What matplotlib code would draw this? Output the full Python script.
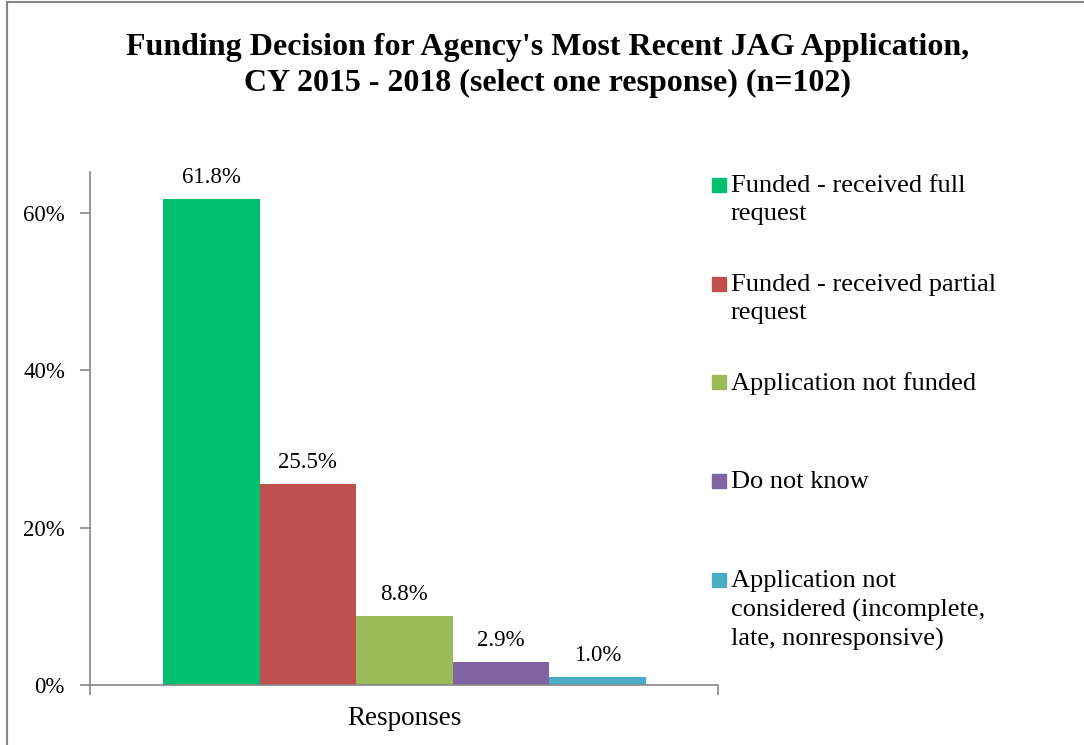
import matplotlib.pyplot as plt
from matplotlib.patches import Rectangle

# Survey responses (percent)
categories = ["Funded - received full\nrequest",
              "Funded - received partial\nrequest",
              "Application not funded",
              "Do not know",
              "Application not\nconsidered (incomplete,\nlate, nonresponsive)"]
values = [61.8, 25.5, 8.8, 2.9, 1.0]
colors = ["#00BF6F", "#C0504D", "#9BBB59", "#8064A2", "#4BACC6"]
yticks = [0, 20, 40, 60]
ytick_labels = ["0%", "20%", "40%", "60%"]

plt.rcParams['font.family'] = ['Liberation Serif', 'DejaVu Serif']
axis_grey = "#868686"

fig = plt.figure(figsize=(10.84, 7.45), dpi=100)
ax = fig.add_axes([0.083, 0.0805, 0.5794, 0.6885])

x = list(range(len(values)))
bars = ax.bar(x, values, width=1.0, color=colors, label=categories)
ax.bar_label(bars, labels=[f"{v:.1f}%" for v in values], padding=8, fontsize=16.5)

ax.set_xlim(-1.255, 5.245)
ax.set_ylim(0, 65.2)
ax.set_yticks(yticks)
ax.set_yticklabels(ytick_labels, fontsize=16.5)
ax.set_xticks([-1.255, 5.245])
ax.set_xticklabels(["", ""])
ax.set_xticks([2], minor=True)
ax.set_xticklabels(["Responses"], minor=True, fontsize=19.5)
ax.tick_params(axis='x', which='minor', length=0, pad=15)
ax.tick_params(axis='both', which='major', length=7, color=axis_grey, width=1.2)
ax.tick_params(axis='y', pad=11)

for side in ["top", "right"]:
    ax.spines[side].set_visible(False)
for side in ["left", "bottom"]:
    ax.spines[side].set_color(axis_grey)
    ax.spines[side].set_linewidth(1.2)

# legend drawn manually so entries are evenly spaced like the original
W, H = 1084, 745
for i, (lab, col) in enumerate(zip(categories, colors)):
    yc = 185 + i * 98.7
    fig.add_artist(Rectangle((712 / W, 1 - (yc + 7) / H), 14 / W, 14 / H,
                             transform=fig.transFigure, color=col))
    fig.text(731 / W, 1 - (yc - 10) / H, lab, fontsize=19, va='top', ha='left',
             linespacing=1.38)

fig.suptitle("Funding Decision for Agency's Most Recent JAG Application,\n"
             "CY 2015 - 2018 (select one response) (n=102)",
             x=548 / W, y=1 - 33 / H, fontsize=23, fontweight='bold', va='top',
             linespacing=1.32)

# chart frame
fig.add_artist(Rectangle((7 / W, -0.05), 1.0, 1.05 - 1.5 / H, transform=fig.transFigure,
                         fill=False, edgecolor=axis_grey, linewidth=1.5))

fig.savefig("out.png", dpi=100)
